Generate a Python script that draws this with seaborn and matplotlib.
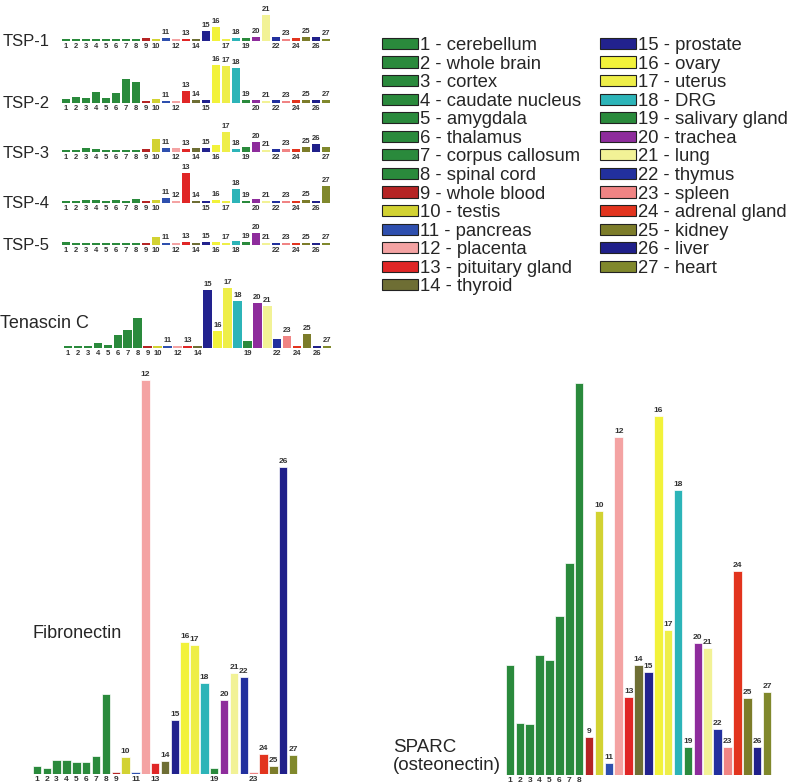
import matplotlib
matplotlib.use("Agg")
import matplotlib.pyplot as plt
from matplotlib.patches import Patch
import pandas as pd
import seaborn as sns

# -----------------------------
# Data (arbitrary expression units)
# -----------------------------
ids = [str(i) for i in range(1, 28)]
tissues = ["cerebellum", "whole brain", "cortex", "caudate nucleus", "amygdala",
           "thalamus", "corpus callosum", "spinal cord", "whole blood", "testis",
           "pancreas", "placenta", "pituitary gland", "thyroid", "prostate",
           "ovary", "uterus", "DRG", "salivary gland", "trachea", "lung",
           "thymus", "spleen", "adrenal gland", "kidney", "liver", "heart"]
colors = ["#2a8a3c", "#2a8a3c", "#2a8a3c", "#2a8a3c", "#2a8a3c", "#2a8a3c",
          "#2a8a3c", "#2a8a3c", "#b52424", "#d2d232", "#2e4fae", "#f4a3a3",
          "#e02626", "#6e6e34", "#22228e", "#f2f23a", "#eeee48", "#2cb4b8",
          "#2a8a3c", "#8e2c9c", "#f2f296", "#22309e", "#f08484", "#e2341e",
          "#7c7c2a", "#20208a", "#80882c"]

tsp1 = [2, 2, 2, 2, 2, 2, 2, 2, 3, 2, 3, 2, 2, 2, 10, 14, 2, 3, 3, 4, 26, 4, 2, 3, 4, 4, 2]
tsp2 = [4, 6, 5, 11, 5, 10, 24, 21, 2, 4, 2, 2, 12, 3, 3, 38, 37, 35, 3, 3, 2, 3, 2, 3, 3, 3, 3]
tsp3 = [2, 2, 4, 3, 2, 2, 2, 2, 3, 13, 4, 4, 3, 4, 4, 7, 20, 3, 5, 10, 2, 3, 3, 3, 5, 8, 5]
tsp4 = [2, 2, 3, 3, 2, 3, 2, 4, 2, 3, 5, 2, 30, 2, 2, 3, 2, 14, 2, 4, 2, 2, 2, 2, 3, 2, 17]
tsp5 = [3, 2, 2, 2, 2, 2, 2, 2, 2, 8, 2, 2, 3, 2, 3, 3, 2, 4, 3, 12, 2, 2, 2, 2, 2, 2, 2]
tenascin = [2, 2, 2, 5, 3, 13, 18, 30, 2, 2, 2, 2, 2, 2, 58, 17, 60, 47, 7, 45, 42, 9, 12, 2, 14, 2, 2]
fibronectin = [8, 6, 14, 14, 12, 12, 18, 80, 2, 17, 2, 394, 11, 13, 54, 132, 129, 91,
               6, 74, 101, 97, 2, 20, 8, 307, 19]
sparc = [110, 52, 51, 120, 115, 159, 212, 392, 38, 264, 12, 338, 78, 110, 103, 359,
         145, 285, 28, 132, 127, 46, 28, 204, 77, 28, 83]

# which number labels sit under the baseline in each panel
below = {
    "TSP-1": list(range(1, 11)) + [12, 14, 17, 19, 22, 24, 26],
    "TSP-2": list(range(1, 11)) + [12, 15, 20, 22, 24, 26],
    "TSP-3": list(range(1, 11)) + [12, 14, 16, 19, 22, 24, 27],
    "TSP-4": list(range(1, 11)) + [15, 17, 20, 22, 24, 26],
    "TSP-5": list(range(1, 11)) + [12, 14, 16, 18, 22, 24, 26],
    "Tenascin C": list(range(1, 11)) + [12, 14, 19, 22, 24, 26],
    "Fibronectin": list(range(1, 10)) + [11, 13, 19, 23],
    "SPARC": list(range(1, 9)),
}

# -----------------------------
# Figure
# -----------------------------
sns.set_style("white")
plt.rcParams["font.family"] = ["Liberation Sans", "DejaVu Sans"]

W, H = 800, 784
fig = plt.figure(figsize=(8, 7.84), dpi=100)


def panel(name, values, left, base, width, height, fs=5.5, lw=0.0):
    ax = fig.add_axes([left / W, (H - base) / H, width / W, height / H])
    df = pd.DataFrame({"id": ids, "value": values})
    sns.barplot(data=df, x="id", y="value", hue="id", order=ids, hue_order=ids,
                palette=colors, legend=False, width=0.86, edgecolor="white",
                linewidth=lw, saturation=1, ax=ax)
    ax.set_xlim(-0.5, 26.5)
    ax.set_ylim(0, height)
    ax.axis("off")
    for i, (n, v) in enumerate(zip(ids, values)):
        if int(n) in below[name]:
            ax.annotate(n, (i, 0), xytext=(0, -1.5), textcoords="offset points",
                        ha="center", va="top", fontsize=fs, fontweight="bold",
                        color="#333333", annotation_clip=False)
        else:
            ax.annotate(n, (i, v), xytext=(0, 1.5), textcoords="offset points",
                        ha="center", va="bottom", fontsize=fs, fontweight="bold",
                        color="#333333", annotation_clip=False)
    return ax


small = [("TSP-1", tsp1, 41), ("TSP-2", tsp2, 103), ("TSP-3", tsp3, 152),
         ("TSP-4", tsp4, 203), ("TSP-5", tsp5, 245)]
for name, vals, base in small:
    panel(name, vals, 61, base, 270, 40)
    fig.text(3 / W, 1 - (base + 1) / H, name, fontsize=12, va="center", ha="left")

panel("Tenascin C", tenascin, 63, 348, 269, 66)
fig.text(0, 1 - 323 / H, "Tenascin C", fontsize=13, va="center", ha="left")

panel("Fibronectin", fibronectin, 32, 774, 266, 400, fs=6, lw=0.5)
fig.text(33 / W, 1 - 633 / H, "Fibronectin", fontsize=13, va="center", ha="left")

panel("SPARC", sparc, 505, 775, 267, 400, fs=6, lw=0.5)
fig.text(393 / W, 1 - 747 / H, "SPARC", fontsize=13.5, va="center", ha="left")
fig.text(393 / W, 1 - 766 / H, "(osteonectin)", fontsize=13.5, va="center", ha="left")

# -----------------------------
# Legend
# -----------------------------
handles = [Patch(facecolor=c, edgecolor="#222222", linewidth=0.8) for c in colors]
labels = [f"{n} - {t}" for n, t in zip(ids, tissues)]
fig.legend(handles, labels, ncol=2, loc="upper left",
           bbox_to_anchor=(382 / W, 1 - 37 / H), frameon=False, fontsize=13.3,
           handlelength=1.95, handleheight=0.55, handletextpad=0.1,
           labelspacing=0.085, columnspacing=1.05, borderaxespad=0, borderpad=0)

fig.savefig("out.png", dpi=100)
